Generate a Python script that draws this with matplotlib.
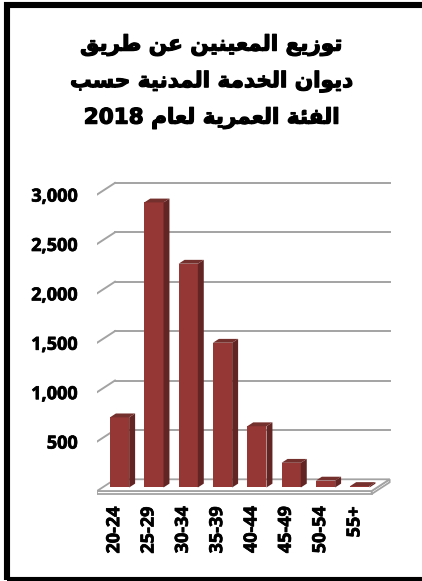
import numpy as np
import matplotlib.pyplot as plt
import matplotlib.patheffects as pe
from matplotlib.patches import Polygon, Rectangle

# data
age_groups = ["20-24", "25-29", "30-34", "35-39", "40-44", "45-49", "50-54", "55+"]
appointees = [710, 2885, 2265, 1465, 620, 250, 70, 15]
y_ticks = [500, 1000, 1500, 2000, 2500, 3000]
title_lines = ["توزيع المعينين عن طريق",
               "ديوان الخدمة المدنية حسب",
               "الفئة العمرية لعام 2018"]

# matplotlib has no Arabic shaping, so join the letters by hand
DUAL = {'ب': 0xFE8F, 'ت': 0xFE95, 'ث': 0xFE99, 'ج': 0xFE9D, 'ح': 0xFEA1, 'خ': 0xFEA5,
        'س': 0xFEB1, 'ش': 0xFEB5, 'ص': 0xFEB9, 'ض': 0xFEBD, 'ط': 0xFEC1, 'ظ': 0xFEC5,
        'ع': 0xFEC9, 'غ': 0xFECD, 'ف': 0xFED1, 'ق': 0xFED5, 'ك': 0xFED9, 'ل': 0xFEDD,
        'م': 0xFEE1, 'ن': 0xFEE5, 'ه': 0xFEE9, 'ي': 0xFEF1, 'ئ': 0xFE89}
RIGHT = {'ا': 0xFE8D, 'ة': 0xFE93, 'د': 0xFEA9, 'ذ': 0xFEAB, 'ر': 0xFEAD, 'ز': 0xFEAF,
         'و': 0xFEED, 'ى': 0xFEEF, 'أ': 0xFE83, 'إ': 0xFE87, 'آ': 0xFE81, 'ؤ': 0xFE85}


def shape_word(w):
    out = []
    for i, ch in enumerate(w):
        prev = w[i - 1] if i > 0 else ''
        nxt = w[i + 1] if i + 1 < len(w) else ''
        jp = prev in DUAL
        jn = ch in DUAL and (nxt in DUAL or nxt in RIGHT)
        if ch in DUAL:
            off = 3 if (jp and jn) else 1 if jp else 2 if jn else 0
            out.append(chr(DUAL[ch] + off))
        elif ch in RIGHT:
            out.append(chr(RIGHT[ch] + (1 if jp else 0)))
        else:
            out.append(ch)
    return ''.join(reversed(out))


def rtl(line):
    words = line.split(' ')
    return ' '.join(shape_word(w) if any(c in DUAL or c in RIGHT for c in w) else w
                    for w in reversed(words))


W, H = 422, 581
fig = plt.figure(figsize=(W / 100, H / 100), dpi=100)

# frame round the chart (right edge is cut off in the reference)
fig.patches.append(Rectangle((7 / W, 1 - 579.5 / H), 430 / W, 574.5 / H,
                             transform=fig.transFigure, fill=False,
                             edgecolor='black', linewidth=4.4))

# plot area placed in pixels
x_scale = 34.33   # px per category
y_scale = 0.0988  # px per unit value
x0, x1 = -0.5, 8.1
y0, y1 = -60, 3250
left_px, bottom_px = 97, 491 + (-y0) * y_scale
ax = fig.add_axes([left_px / W, 1 - bottom_px / H,
                   (x1 - x0) * x_scale / W, (y1 - y0) * y_scale / H])
ax.set_xlim(x0, x1)
ax.set_ylim(y0, y1)
for s in ax.spines.values():
    s.set_visible(False)

DX = 18 / x_scale       # depth shift, category units
DY = 11.7 / y_scale     # depth shift, value units
n = len(age_groups)
grid_c = '#a3a3a3'

# back wall gridlines and slanted side lines
for v in y_ticks:
    ax.plot([-0.5 + DX, n - 0.5 + DX], [v + DY, v + DY], color=grid_c, lw=1.4, zorder=1)
    ax.plot([-0.5, -0.5 + DX], [v, v + DY], color=grid_c, lw=1.4, zorder=1)

# floor slab
T = 3 / y_scale
floor_top = [(-0.5, 0), (n - 0.5, 0), (n - 0.5 + DX, DY), (-0.5 + DX, DY)]
floor_front = [(-0.5, 0), (n - 0.5, 0), (n - 0.5, -T), (-0.5, -T)]
floor_side = [(n - 0.5, 0), (n - 0.5 + DX, DY), (n - 0.5 + DX, DY - T), (n - 0.5, -T)]
for pts in (floor_front, floor_side, floor_top):
    ax.add_patch(Polygon(pts, closed=True, facecolor='white', edgecolor=grid_c,
                         lw=1.3, zorder=2))

# bars with a little depth
f0, dd = 0.3, 0.33
bw = 0.56
xs = np.arange(n) + f0 * DX
base = f0 * DY
ax.bar(xs, appointees, width=bw, bottom=base, color='#953735', zorder=3)
for x, v in zip(xs, appointees):
    xl, xr = x - bw / 2, x + bw / 2
    top = base + v
    side = [(xr, base), (xr + dd * DX, base + dd * DY),
            (xr + dd * DX, top + dd * DY), (xr, top)]
    cap = [(xl, top), (xr, top), (xr + dd * DX, top + dd * DY), (xl + dd * DX, top + dd * DY)]
    ax.add_patch(Polygon(side, closed=True, facecolor='#632523', edgecolor='none', zorder=3))
    ax.add_patch(Polygon(cap, closed=True, facecolor='#74302d', edgecolor='none', zorder=3))

bold = [pe.withStroke(linewidth=0.5, foreground='black')]
ax.set_yticks(y_ticks)
ax.set_yticklabels([f"{v:,}" for v in y_ticks], fontfamily='Open Sans',
                   fontweight='bold', fontsize=13, path_effects=bold)
ax.set_xticks(np.arange(n))
ax.set_xticklabels(age_groups, rotation=90, fontfamily='Open Sans',
                   fontweight='bold', fontsize=13, path_effects=bold)
ax.tick_params(axis='y', length=0, pad=14)
ax.tick_params(axis='x', length=0, pad=7)

# title, one line at a time
thick = [pe.withStroke(linewidth=0.9, foreground='black')]
for i, line in enumerate(title_lines):
    fig.text(0.5, 1 - (45 + 36.5 * i) / H, rtl(line), ha='center', va='center',
             fontfamily=['DejaVu Sans'], fontweight='bold', fontsize=15.5,
             path_effects=thick)

fig.savefig('out.png', dpi=100)
